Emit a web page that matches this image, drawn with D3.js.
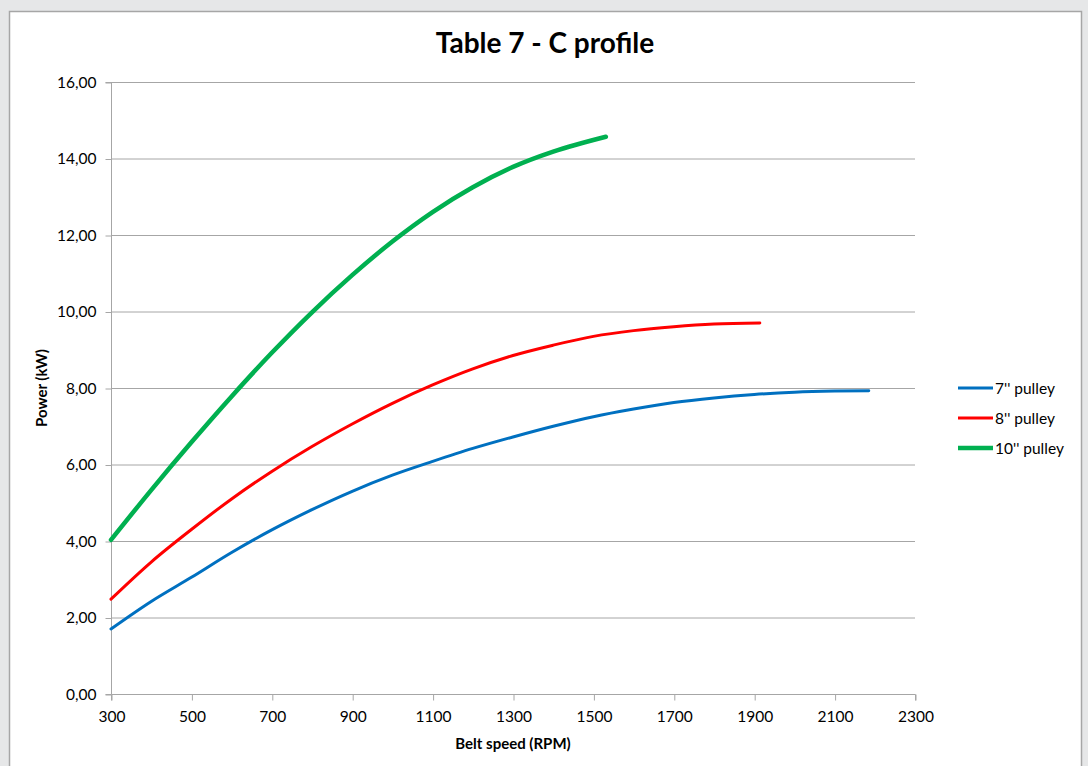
<!DOCTYPE html>
<html><head><meta charset="utf-8">
<script src="https://cdn.jsdelivr.net/npm/d3@7"></script>
<style>
html,body{margin:0;padding:0;background:#e6e7e8;}
svg{display:block;font-family:Lato,"Open Sans",sans-serif;}
</style></head>
<body><svg id="c" width="1088" height="766"></svg>
<script>
const rpm7 = [300, 400, 500, 600, 700, 800, 900, 1000, 1100, 1200, 1300, 1400, 1500, 1600, 1700, 1800, 1900, 2000, 2100, 2185];
const kw7  = [1.70, 2.42, 3.05, 3.70, 4.29, 4.82, 5.30, 5.72, 6.08, 6.42, 6.72, 7.00, 7.25, 7.45, 7.62, 7.74, 7.83, 7.89, 7.92, 7.93];
const rpm8 = [300, 400, 500, 600, 700, 800, 900, 1000, 1100, 1200, 1300, 1400, 1500, 1600, 1700, 1800, 1914];
const kw8  = [2.48, 3.45, 4.30, 5.10, 5.82, 6.47, 7.06, 7.60, 8.08, 8.50, 8.85, 9.12, 9.35, 9.50, 9.60, 9.67, 9.70];
const rpm10 = [300, 400, 500, 600, 700, 800, 900, 1000, 1100, 1200, 1300, 1400, 1531];
const kw10  = [4.03, 5.33, 6.58, 7.78, 8.92, 9.98, 10.95, 11.83, 12.60, 13.25, 13.78, 14.18, 14.57];
const xTicks = [300, 500, 700, 900, 1100, 1300, 1500, 1700, 1900, 2100, 2300];
const yTicks = [0, 2, 4, 6, 8, 10, 12, 14, 16];
const seriesNames = ["7'' pulley", "8'' pulley", "10'' pulley"];
const seriesColors = ["#0070c0", "#ff0000", "#00b050"];

const svg = d3.select("#c");
// frame
svg.append("rect").attr("x",9.5).attr("y",11.5).attr("width",1072).attr("height",760)
  .attr("fill","#fff").attr("stroke","#a6a6a6").attr("stroke-width",1.5);

const x = d3.scaleLinear().domain([300,2300]).range([111,915]);
const y = d3.scaleLinear().domain([0,16]).range([694,82]);
const grid = "#a6a6a6";
const FF = "Lato, 'Open Sans', sans-serif";

// gridlines
svg.append("g").selectAll("line").data(yTicks.filter(d=>d>0)).join("line")
  .attr("x1",x(300)).attr("x2",x(2300)).attr("y1",d=>y(d)+0.5).attr("y2",d=>y(d)+0.5)
  .attr("stroke",grid).attr("stroke-width",1);

// y axis
const yAxis = svg.append("g").attr("transform",`translate(${x(300)+0.5},0.5)`)
  .call(d3.axisLeft(y).tickValues(yTicks).tickSize(6)
    .tickFormat(d=>d3.format(".2f")(d).replace(".",",")));
yAxis.select(".domain").attr("stroke",grid).attr("d",`M-6,${y(0)}H0V${y(16)}H-6`);
yAxis.selectAll(".tick line").attr("stroke",grid);
yAxis.selectAll(".tick text").attr("font-size",15.5).attr("fill","#000")
  .attr("font-family",FF).attr("x",-15).attr("text-anchor","end");

// x axis
const xAxis = svg.append("g").attr("transform",`translate(0.5,${y(0)+0.5})`)
  .call(d3.axisBottom(x).tickValues(xTicks).tickSize(6).tickPadding(10).tickFormat(d3.format("d")));
xAxis.select(".domain").attr("stroke",grid).attr("d",`M${x(300)},6V0H${x(2300)}V6`);
xAxis.selectAll(".tick line").attr("stroke",grid);
xAxis.selectAll(".tick text").attr("font-size",15.5).attr("fill","#000")
  .attr("font-family",FF);

// lines
const line = d3.line().x(d=>x(d[0])).y(d=>y(d[1])).curve(d3.curveMonotoneX);
const data = [
  d3.zip(rpm7,kw7), d3.zip(rpm8,kw8), d3.zip(rpm10,kw10)
];
const widths = [3,3,4.5];
data.forEach((s,i)=>{
  svg.append("path").datum(s).attr("d",line).attr("fill","none")
    .attr("stroke",seriesColors[i]).attr("stroke-width",widths[i]).attr("stroke-linecap","round");
});

// title
svg.append("text").attr("x",545).attr("y",53).attr("text-anchor","middle")
  .attr("font-size",28).attr("font-weight","bold").text("Table 7 - C profile");
// axis titles
svg.append("text").attr("x",513).attr("y",749).attr("text-anchor","middle")
  .attr("font-size",15).attr("font-weight","bold").text("Belt speed (RPM)");
svg.append("text").attr("transform","translate(47,388) rotate(-90)").attr("text-anchor","middle")
  .attr("font-size",15).attr("font-weight","bold").text("Power (kW)");

// legend
const lg = svg.append("g");
seriesNames.forEach((n,i)=>{
  const yy = 388 + i*30;
  lg.append("line").attr("x1",958).attr("x2",993).attr("y1",yy).attr("y2",yy)
    .attr("stroke",seriesColors[i]).attr("stroke-width",widths[i]);
  lg.append("text").attr("x",995).attr("y",yy+5.5).attr("font-size",15.5).text(n);
});
</script></body></html>
